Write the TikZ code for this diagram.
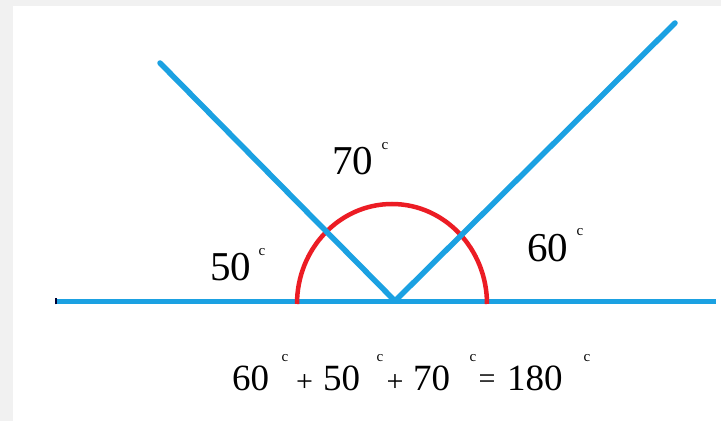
\documentclass[tikz,border=0pt]{standalone}
\usepackage{fontspec}
\setmainfont{Liberation Serif}
\definecolor{rayblue}{RGB}{27,161,226}
\definecolor{arcred}{RGB}{236,28,36}
\definecolor{bordergray}{RGB}{241,241,241}
\begin{document}
\begin{tikzpicture}[x=1pt,y=1pt,
  ray/.style={draw=rayblue,line width=5.5pt,line cap=round},
  big/.style={inner sep=0pt,anchor=base west,font=\fontsize{41}{41}\selectfont},
  eq/.style={inner sep=0pt,anchor=base west,font=\fontsize{37}{37}\selectfont},
  op/.style={inner sep=0pt,anchor=center,font=\fontsize{30}{30}\selectfont},
  degc/.style={inner sep=0pt,anchor=center,font=\fontsize{15}{15}\selectfont}]
\useasboundingbox (0,0) rectangle (721,421);
\fill[bordergray] (0,0) rectangle (721,421);
\fill[white] (13,0) rectangle (721,415);
% geometry
\coordinate (V) at (395,120);
\coordinate (L) at (160,358);
\coordinate (R) at (675,398);
\coordinate (H1) at (57,119.5);
\coordinate (H2) at (716,119.5);
\draw[draw=rayblue,line width=5pt] (H1) -- (H2);
\draw[draw=black!80!blue,line width=2pt] (56,116.5) -- (56,122.5);
\draw[draw=arcred,line width=4.5pt] (487,117) arc[start angle=0,end angle=180,x radius=95,y radius=100];
\draw[ray] (V) -- (L);
\draw[ray] (V) -- (R);
% angle labels
\node[big] (a70) at (332,246) {70};
\node[degc] (c70) at (385,275) {c};
\node[big] (a50) at (210,140) {50};
\node[degc] (c50) at (262,169) {c};
\node[big] (a60) at (527,159) {60};
\node[degc] (c60) at (580,189) {c};
% equation
\node[eq] (e1) at (232,31) {60};
\node[degc] (e1c) at (285,63) {c};
\node[op] (p1) at (304.5,38) {+};
\node[eq] (e2) at (323,31) {50};
\node[degc] (e2c) at (380,63) {c};
\node[op] (p2) at (395,38) {+};
\node[eq] (e3) at (413,31) {70};
\node[degc] (e3c) at (473,63) {c};
\node[op] (q) at (487,39) {=};
\node[eq] (e4) at (507,31) {180};
\node[degc] (e4c) at (587,63) {c};
\end{tikzpicture}
\end{document}
